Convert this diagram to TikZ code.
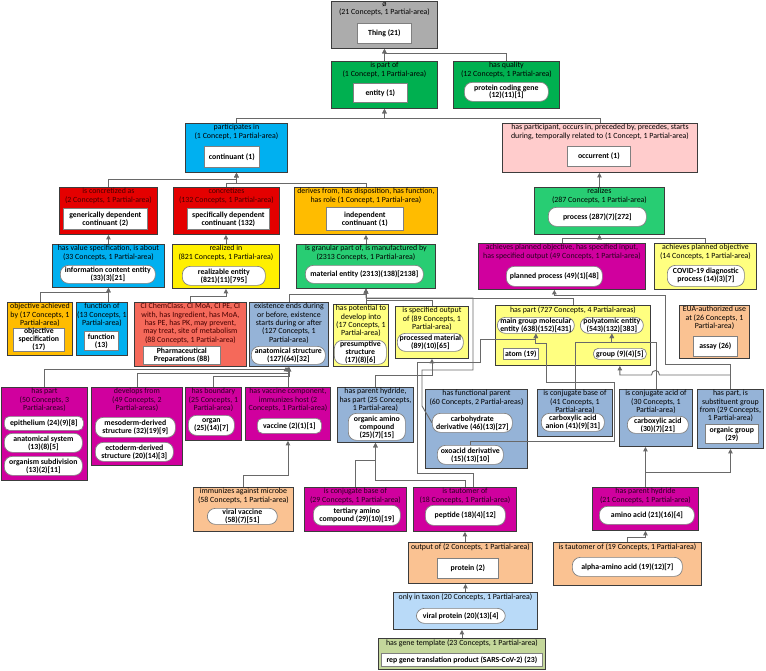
\documentclass[tikz,border=0pt]{standalone}
\usepackage{fontspec}
\setmainfont{Carlito}
\usetikzlibrary{arrows.meta}
\pgfdeclarelayer{bg}
\pgfdeclarelayer{mid}
\pgfsetlayers{bg,mid,main}

\definecolor{cGray}{RGB}{172,172,172}
\definecolor{cGreen}{RGB}{0,176,80}
\definecolor{cBlue}{RGB}{0,176,240}
\definecolor{cPink}{RGB}{255,204,204}
\definecolor{cRed}{RGB}{228,0,0}
\definecolor{cRedT}{RGB}{70,0,0}
\definecolor{cOrange}{RGB}{255,188,0}
\definecolor{cMedGreen}{RGB}{40,205,115}
\definecolor{cYellow}{RGB}{255,240,0}
\definecolor{cLYellow}{RGB}{255,255,128}
\definecolor{cMag}{RGB}{208,0,158}
\definecolor{cMagT}{RGB}{40,0,30}
\definecolor{cCoral}{RGB}{245,105,90}
\definecolor{cBGray}{RGB}{149,179,215}
\definecolor{cPeach}{RGB}{250,194,146}
\definecolor{cLBlue}{RGB}{185,218,248}
\definecolor{cOlive}{RGB}{196,215,155}
\definecolor{cLine}{RGB}{105,105,105}
\definecolor{cBorder}{RGB}{60,60,60}

\tikzset{
  obox/.style={draw=cBorder, line width=0.9pt, inner sep=0pt, anchor=north west},
  ttl/.style={anchor=north, align=center, inner sep=0pt, font=\fontsize{7.9}{8.3}\selectfont},
  irect/.style={draw=gray, fill=white, line width=0.7pt, inner sep=0pt, anchor=north west, align=center, font=\fontsize{7.8}{8}\selectfont\bfseries},
  ipill/.style={irect, rounded corners=8pt},
  spill/.style={irect, rounded corners=5pt},
  conn/.style={draw=cLine, line width=0.9pt, -{Triangle[width=4.5pt,length=4.5pt]}},
}

\newcommand\OB[8]{%
\begin{pgfonlayer}{bg}
\node[obox,fill=#6,minimum width={(#4-#2)*1pt},minimum height={(#5-#3)*1pt}] (#1) at (#2,#3) {};
\end{pgfonlayer}
\node[ttl,text=#7] (#1t) at ([yshift=-1.2pt]#1.north) {#8};}
\newcommand\IB[7]{\node[#6,minimum width={(#4-#2)*1pt},minimum height={(#5-#3)*1pt}] (#1) at (#2,#3) {#7};}

\begin{document}
\begin{tikzpicture}[x=1pt,y=-1pt]
\useasboundingbox (0,0) rectangle (766,670);
\begin{pgfonlayer}{bg}
\fill[white] (0,0) rectangle (766,670);
\end{pgfonlayer}

\OB{thingB}{331}{1}{437}{48}{cGray}{black}{ø\\(21 Concepts, 1 Partial-area)}
\IB{thing}{357}{23}{411}{43}{irect}{Thing (21)}
\OB{partofB}{331}{61}{437}{108}{cGreen}{black}{is part of\\(1 Concept, 1 Partial-area)}
\IB{entity}{353}{83}{407}{102}{irect}{entity (1)}
\OB{qualB}{453}{61}{559}{108}{cGreen}{black}{has quality\\(12 Concepts, 1 Partial-area)}
\IB{pcg}{464}{82}{548}{101}{ipill}{protein coding gene\\(12)(11)[1]}
\OB{partB}{185}{123}{287}{172}{cBlue}{black}{participates in\\(1 Concept, 1 Partial-area)}
\IB{cont}{204}{146}{259}{167}{irect}{continuant (1)}
\OB{occB}{502}{123}{697}{172}{cPink}{black}{has participant, occurs in, preceded by, precedes, starts\\during, temporally related to (1 Concept, 1 Partial-area)}
\IB{occ}{567}{146}{630}{166}{irect}{occurrent (1)}
\OB{gdcB}{59}{187}{157}{234}{cRed}{cRedT}{is concretized as\\(2 Concepts, 1 Partial-area)}
\IB{gdc}{63}{208}{147}{229}{irect}{generically dependent\\continuant (2)}
\OB{sdcB}{173}{187}{279}{234}{cRed}{cRedT}{concretizes\\(132 Concepts, 1 Partial-area)}
\IB{sdc}{187}{208}{269}{229}{irect}{specifically dependent\\continuant (132)}
\OB{icB}{294}{187}{437}{234}{cOrange}{black}{derives from, has disposition, has function,\\has role (1 Concept, 1 Partial-area)}
\IB{ic}{326}{207}{403}{230}{irect}{independent\\continuant (1)}
\OB{realB}{534}{187}{664}{234}{cMedGreen}{black}{realizes\\(287 Concepts, 1 Partial-area)}
\IB{proc}{548}{207}{646}{226}{ipill}{process (287)(7)[272]}
\OB{iceB}{52}{244}{164}{287}{cBlue}{black}{has value specification, is about\\(33 Concepts, 1 Partial-area)}
\IB{ice}{60}{265}{155}{283}{ipill}{information content entity\\(33)(3)[21]}
\OB{reB}{172}{244}{279}{288}{cYellow}{black}{realized in\\(821 Concepts, 1 Partial-area)}
\IB{re}{182}{266}{265}{285}{ipill}{realizable entity\\(821)(11)[795]}
\OB{meB}{296}{244}{435}{288}{cMedGreen}{black}{is granular part of, is manufactured by\\(2313 Concepts, 1 Partial-area)}
\IB{me}{305}{265}{423}{283}{ipill}{material entity (2313)(138)[2138]}
\OB{ppB}{478}{243}{645}{289}{cMag}{cMagT}{achieves planned objective, has specified input,\\has specified output (49 Concepts, 1 Partial-area)}
\IB{pp}{506}{266}{602}{286}{ipill}{planned process (49)(1)[48]}
\OB{covB}{654}{243}{756}{289}{cLYellow}{black}{achieves planned objective\\(14 Concepts, 1 Partial-area)}
\IB{cov}{667}{265}{744}{286}{ipill}{COVID-19 diagnostic\\process (14)(3)[7]}

\OB{objB}{7}{302}{72}{355}{cOrange}{black}{objective achieved\\by (17 Concepts, 1\\Partial-area)}
\IB{obj}{13}{328}{64}{350}{irect}{objective\\specification\\(17)}
\OB{funB}{76}{302}{127}{355}{cBlue}{black}{function of\\(13 Concepts, 1\\Partial-area)}
\IB{fun}{84}{331}{118}{350}{irect}{function\\(13)}
\OB{ciB}{134}{302}{246}{366}{cCoral}{cRedT}{CI ChemClass, CI MoA, CI PE, CI\\with, has Ingredient, has MoA,\\has PE, has PK, may prevent,\\may treat, site of metabolism\\(88 Concepts, 1 Partial-area)}
\IB{ci}{143}{346}{220}{364}{irect}{Pharmaceutical\\Preparations (88)}
\OB{asB}{249}{302}{328}{366}{cBGray}{black}{existence ends during\\or before, existence\\starts during or after\\(127 Concepts, 1\\Partial-area)}
\IB{as}{251}{346}{325}{364}{ipill}{anatomical structure\\(127)(64)[32]}
\OB{psB}{333}{304}{388}{366}{cLYellow}{black}{has potential to\\develop into\\(17 Concepts, 1\\Partial-area)}
\IB{ps}{334}{340}{386}{364}{ipill}{presumptive\\structure\\(17)(8)[6]}
\OB{pmB}{395}{306}{468}{358}{cLYellow}{black}{is specified output\\of (89 Concepts, 1\\Partial-area)}
\IB{pm}{397}{333}{463}{351}{ipill}{processed material\\(89)(10)[65]}
\OB{hpB}{495}{305}{650}{365}{cLYellow}{black}{has part (727 Concepts, 4 Partial-areas)}
\IB{mg}{497}{317}{574}{333}{ipill}{main group molecular\\entity (638)(152)[431]}
\IB{pa}{580}{317}{643}{333}{ipill}{polyatomic entity\\(543)(132)[383]}
\IB{atom}{503}{348}{538}{359}{irect}{atom (19)}
\IB{grp}{593}{348}{646}{359}{spill}{group (9)(4)[5]}
\OB{euaB}{679}{305}{749}{358}{cPeach}{black}{EUA-authorized use\\at (26 Concepts, 1\\Partial-area)}
\IB{assay}{693}{336}{737}{356}{irect}{assay (26)}

\OB{hp50B}{1}{387}{87}{480}{cMag}{cMagT}{has part\\(50 Concepts, 3\\Partial-areas)}
\IB{epi}{4}{416}{83}{430}{spill}{epithelium (24)(9)[8]}
\IB{ans}{4}{433}{82}{452}{ipill}{anatomical system\\(13)(8)[5]}
\IB{osd}{4}{456}{82}{475}{ipill}{organism subdivision\\(13)(2)[11]}
\OB{devB}{91}{387}{182}{465}{cMag}{cMagT}{develops from\\(49 Concepts, 2\\Partial-areas)}
\IB{meso}{95}{417}{175}{437}{ipill}{mesoderm-derived\\structure (32)(19)[9]}
\IB{ecto}{95}{442}{173}{461}{ipill}{ectoderm-derived\\structure (20)(14)[3]}
\OB{bndB}{185}{387}{241}{440}{cMag}{cMagT}{has boundary\\(25 Concepts, 1\\Partial-area)}
\IB{organ}{188}{415}{234}{435}{ipill}{organ\\(25)(14)[7]}
\OB{vacB}{245}{387}{330}{440}{cMag}{cMagT}{has vaccine component,\\immunizes host (2\\Concepts, 1 Partial-area)}
\IB{vac}{257}{418}{321}{433}{spill}{vaccine (2)(1)[1]}
\OB{oacB}{337}{387}{413}{442}{cBGray}{black}{has parent hydride,\\has part (25 Concepts,\\1 Partial-area)}
\IB{oac}{348}{413}{405}{440}{ipill}{organic amino\\compound\\(25)(7)[15]}
\OB{fpB}{425}{389}{527}{468}{cBGray}{black}{has functional parent\\(60 Concepts, 2 Partial-areas)}
\IB{carb}{432}{413}{512}{432}{ipill}{carbohydrate\\derivative (46)(13)[27]}
\IB{oxo}{437}{445}{503}{464}{ipill}{oxoacid derivative\\(15)(13)[10]}
\OB{cbB}{537}{389}{612}{436}{cBGray}{black}{is conjugate base of\\(41 Concepts, 1\\Partial-area)}
\IB{caa}{541}{413}{604}{431}{ipill}{carboxylic acid\\anion (41)(9)[31]}
\OB{caB}{619}{389}{692}{446}{cBGray}{black}{is conjugate acid of\\(30 Concepts, 1\\Partial-area)}
\IB{ca}{627}{416}{688}{433}{ipill}{carboxylic acid\\(30)(7)[21]}
\OB{sgB}{697}{389}{763}{448}{cBGray}{black}{has part, is\\substituent group\\from (29 Concepts,\\1 Partial-area)}
\IB{og}{705}{424}{758}{443}{irect}{organic group\\(29)}

\OB{ivB}{193}{487}{293}{531}{cPeach}{black}{immunizes against microbe\\(58 Concepts, 1 Partial-area)}
\IB{vv}{207}{508}{277}{524}{ipill}{viral vaccine\\(58)(7)[51]}
\OB{tacB}{304}{487}{406}{531}{cMag}{cMagT}{is conjugate base of\\(29 Concepts, 1 Partial-area)}
\IB{tac}{313}{505}{400}{525}{ipill}{tertiary amino\\compound (29)(10)[19]}
\OB{pepB}{413}{487}{516}{531}{cMag}{cMagT}{is tautomer of\\(18 Concepts, 1 Partial-area)}
\IB{pep}{425}{505}{505}{525}{ipill}{peptide (18)(4)[12]}
\OB{aaB}{592}{487}{698}{530}{cMag}{cMagT}{has parent hydride\\(21 Concepts, 1 Partial-area)}
\IB{aa}{599}{506}{694}{524}{ipill}{amino acid (21)(16)[4]}
\OB{outB}{408}{542}{532}{583}{cPeach}{black}{output of (2 Concepts, 1 Partial-area)}
\IB{prot}{437}{558}{498}{578}{irect}{protein (2)}
\OB{taaB}{553}{542}{701}{585}{cPeach}{black}{is tautomer of (19 Concepts, 1 Partial-area)}
\IB{taa}{572}{557}{682}{576}{ipill}{alpha-amino acid (19)(12)[7]}
\OB{vpB}{393}{592}{537}{629}{cLBlue}{black}{only in taxon (20 Concepts, 1 Partial-area)}
\IB{vp}{416}{608}{505}{623}{ipill}{viral protein (20)(13)[4]}
\OB{rgB}{378}{638}{545}{669}{cOlive}{black}{has gene template (23 Concepts, 1 Partial-area)}
\IB{rg}{381}{653}{542}{666}{irect}{rep gene translation product (SARS-CoV-2) (23)}

\begin{pgfonlayer}{mid}
\draw[conn] (partofB.north) -- (thingB.south);
\draw[conn] (qualB.north) -- ++(0,-8) -| (thingB.south);
\draw[conn] (partB.north) -- ++(0,-5) -| (partofB.south);
\draw[conn] (occB.north) -- ++(0,-5) -| (partofB.south);
\draw[conn] (gdcB.north) -- ++(0,-8) -| (partB.south);
\draw[conn] (sdcB.north) -- ++(0,-4) -| (partB.south);
\draw[conn] (icB.north) -- ++(0,-4) -| (partB.south);
\draw[conn] (realB.north) -- (realB.north |- occB.south);
\draw[conn] (iceB.north) -- (gdcB.south);
\draw[conn] (reB.north) -- (reB.north |- sdcB.south);
\draw[conn] (meB.north) -- (meB.north |- icB.south);
\draw[conn] (ppB.north) -- ++(0,-5) -| (realB.south);
\draw[conn] (covB.north) -- ++(0,-5) -| (realB.south);
\draw[conn] (objB.north) -- ++(0,-10) -| (iceB.south);
\draw[conn] (funB.north -| iceB.south) -- (iceB.south);
\draw[conn] (ciB.north) -- ++(0,-6) -| (reB.south);
\draw[conn] (asB.north) -- ++(0,-8) -| (meB.south);
\draw[conn] (psB.north -| meB.south) -- (meB.south);
\draw[conn] (pmB.north) -- ++(0,-6) -| (meB.south);
\draw[conn] (hpB.north) -- ++(0,-7) -| (meB.south);
\draw[conn] (hp50B.north) -- ++(0,-18) -| ([xshift=-3pt]asB.south);
\draw[conn] (devB.north) -- ++(0,-14) -| (asB.south);
\draw[conn] (bndB.north) -- ++(0,-11) -| (asB.south);
\draw[conn] (vacB.north) -- (vacB.north |- asB.south);
\draw[conn] (oacB.north) -- ++(0,-12) -| (pmB.south);
\draw[conn] (ivB.north) -- ++(0,-12) -| (vacB.south);
\draw[conn] (tacB.north) -- ++(0,-27) -| (oacB.south);
\draw[conn] (pepB.north) -- ++(0,-7) -| (oacB.south);
\draw[conn] ([xshift=8pt]pepB.north) -- ++(0,-14) -- (417,473) -- (417,362) -- (480,362) -- (480,339) -| (mg.south);
\draw[conn] (carb.west) -- (422,406) -- (422,370) -- (473,370) -- (473,298) -| (meB.south);
\draw[conn] (oxo.north) -- ++(0,-4) -- (614,441) -- (614,382) -- (546,382) -- (546,343) -| (mg.south);
\draw[conn] (cbB.north) -- ++(0,-47) -| (pa.south);
\draw[conn] (caB.north) -- ++(0,-47) -| (pa.south);
\draw[conn] (sgB.north) -- ++(0,-14) -- (659.5,375) .. controls (659.5,369) and (651.5,369) .. (651.5,375) -| (grp.south |- hpB.south);
\draw[conn] (sgB.north) -- ++(0,-25) -- (665,364) -- (665,295) -| (pp.south |- ppB.south);
\draw[conn] (aaB.north) -- (aaB.north |- caB.south);
\draw[conn] (aaB.north) -- ++(0,-15) -| (sgB.south);
\draw[conn] (taaB.north) -- ++(0,-5) -| (aaB.south);
\draw[conn] (pepB.south |- outB.north) -- (pepB.south);
\draw[conn] (vpB.north) -- (vpB.north |- outB.south);
\draw[conn] (rgB.north) -- (rgB.north |- vpB.south);
\end{pgfonlayer}
\end{tikzpicture}
\end{document}
